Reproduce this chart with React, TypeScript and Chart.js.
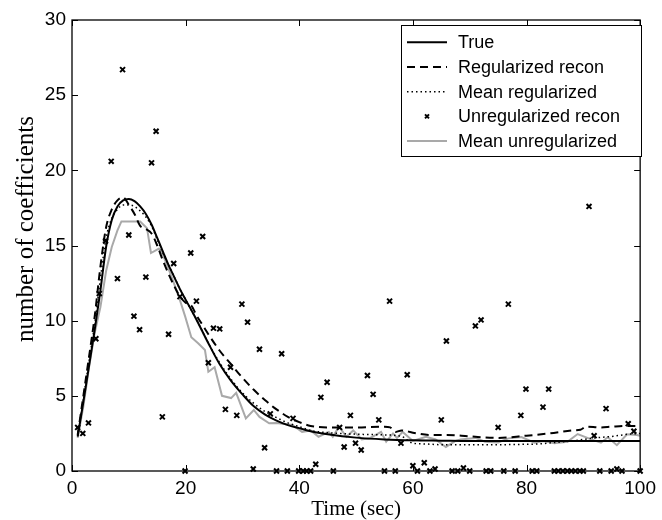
import React, { useEffect, useRef } from "react";
import { Chart, registerables } from "chart.js";

Chart.register(...registerables);

// ---- data ----
const trueT = [1, 2, 3, 4, 5, 6, 7, 8, 9, 10, 11, 12, 13, 14, 15, 16, 17, 18, 19, 20, 22, 24, 26, 28, 30, 32, 34, 36, 38, 40, 42, 45, 50, 55, 60, 65, 70, 80, 90, 100];
const trueV = [2.3, 4.6, 7.0, 9.4, 12.0, 14.9, 16.7, 17.6, 18.0, 18.1, 17.95, 17.6, 17.1, 16.4, 15.5, 14.6, 13.7, 12.9, 12.1, 11.4, 10.0, 8.5, 7.1, 6.0, 5.1, 4.3, 3.75, 3.35, 3.05, 2.85, 2.65, 2.45, 2.22, 2.1, 2.04, 2.02, 2.0, 2.0, 2.0, 2.0];

const regT = [1, 2, 3, 4, 5, 6, 7, 8, 9, 10, 11, 12, 13, 14, 15, 16, 17, 18, 19, 20, 21, 22, 23, 24, 26, 28, 30, 32, 34, 36, 38, 40, 42, 45, 50, 55, 56, 57, 58, 60, 63, 66, 70, 75, 80, 84, 88, 89.5, 90.5, 93, 95, 98, 100];
const regV = [2.4, 5.0, 7.6, 10.3, 13.6, 16.2, 17.4, 18.0, 18.2, 17.7, 17.1, 16.3, 16.1, 15.8, 15.0, 14.0, 13.1, 12.3, 11.6, 11.2, 11.0, 10.3, 9.7, 9.1, 8.0, 7.1, 6.2, 5.4, 4.7, 4.1, 3.6, 3.25, 3.0, 2.9, 2.9, 2.95, 2.9, 2.6, 2.7, 2.55, 2.4, 2.4, 2.3, 2.2, 2.35, 2.5, 2.7, 2.75, 2.95, 2.9, 2.95, 3.0, 3.0];

const meanRegT = [1, 2, 3, 4, 5, 6, 7, 8, 9, 10, 11, 12, 13, 14, 15, 16, 17, 18, 19, 20, 22, 24, 26, 28, 30, 32, 34, 36, 38, 40, 42, 45, 50, 55, 58, 60, 62, 65, 70, 75, 80, 82, 85, 88, 90, 92, 95, 98, 100];
const meanRegV = [2.3, 4.8, 7.3, 9.8, 12.8, 15.5, 16.8, 17.4, 17.7, 17.7, 17.6, 17.3, 16.9, 16.3, 15.4, 14.5, 13.7, 12.9, 12.1, 11.4, 10.0, 8.5, 7.2, 6.1, 5.2, 4.5, 3.95, 3.55, 3.2, 2.95, 2.7, 2.55, 2.45, 2.4, 2.3, 1.85, 1.8, 1.75, 1.75, 1.75, 1.78, 1.8, 1.9, 2.0, 2.1, 2.2, 2.3, 2.45, 2.5];

const unregT = [1.0, 1.9, 2.9, 4.2, 4.8, 5.9, 6.9, 8.0, 8.9, 10.0, 10.9, 11.9, 13.0, 14.0, 14.8, 15.9, 17.0, 17.9, 19.0, 19.9, 20.9, 21.9, 23.0, 24.0, 24.9, 26.0, 27.0, 27.9, 29.0, 29.9, 30.9, 31.9, 33.0, 33.9, 34.9, 36.0, 36.9, 37.9, 38.9, 39.9, 40.7, 41.3, 42.0, 42.9, 43.8, 44.9, 46.0, 47.1, 47.9, 49.0, 49.9, 50.9, 52.0, 53.0, 54.0, 55.0, 55.9, 56.9, 57.9, 59.0, 60.0, 60.8, 62.0, 63.0, 63.9, 65.0, 65.9, 66.9, 67.9, 68.9, 70.0, 71.0, 72.0, 72.9, 73.7, 75.0, 76.0, 76.8, 78.0, 79.0, 79.9, 81.0, 81.8, 82.9, 83.9, 84.9, 85.6, 86.4, 87.2, 87.9, 88.6, 89.4, 90.0, 91.0, 91.9, 92.9, 94.0, 94.9, 95.9, 96.8, 97.9, 98.9, 100];
const unregV = [2.9, 2.5, 3.2, 8.8, 11.8, 15.3, 20.6, 12.8, 26.7, 15.7, 10.3, 9.4, 12.9, 20.5, 22.6, 3.6, 9.1, 13.8, 11.6, 0, 14.5, 11.3, 15.6, 7.2, 9.5, 9.45, 4.1, 6.9, 3.7, 11.1, 9.9, 0.13, 8.1, 1.55, 3.8, 0, 7.8, 0, 3.5, 0, 0, 0, 0, 0.45, 4.9, 5.9, 0, 2.9, 1.6, 3.7, 1.85, 1.4, 6.35, 5.1, 3.4, 0, 11.3, 0, 1.85, 6.4, 0.35, 0, 0.55, 0, 0.13, 3.4, 8.65, 0, 0, 0.2, 0, 9.65, 10.05, 0, 0, 2.9, 0, 11.1, 0, 3.7, 5.45, 0, 0, 4.25, 5.45, 0, 0, 0, 0, 0, 0, 0, 0, 17.6, 2.35, 0, 4.15, 0, 0.13, 0, 3.15, 2.65, 0];

const meanUnT = [1, 2, 3, 4, 5, 6, 7, 8, 8.7, 12, 13.2, 13.9, 15.3, 16, 17.3, 18.8, 19.9, 21, 22.2, 23.4, 24, 25.1, 26.4, 28, 28.9, 30.6, 32, 33, 34.7, 36, 38.8, 40.5, 42, 43.4, 45.2, 45.9, 47, 48.3, 49.5, 51, 52.5, 54.4, 55.3, 56.5, 57.2, 58.2, 60, 62.3, 64, 65.8, 67.5, 68.4, 71, 72.7, 75, 76.8, 79.1, 81.4, 83, 84.9, 87.2, 89, 91.4, 93.1, 94.3, 95.9, 97.7, 99.4, 100];
const meanUnV = [2.2, 4.3, 6.9, 9.2, 10.9, 13.3, 14.9, 16.0, 16.6, 16.6, 16.15, 14.5, 14.8, 14.4, 13.15, 11.6, 10.3, 8.9, 8.5, 8.05, 6.6, 6.9, 5.0, 4.85, 5.2, 3.5, 4.06, 3.6, 3.17, 3.2, 3.06, 2.6, 2.7, 2.28, 2.6, 2.28, 2.95, 2.28, 2.7, 2.1, 2.2, 2.6, 1.95, 2.5, 2.2, 2.6, 2.0, 2.28, 2.1, 1.6, 2.0, 2.1, 2.2, 1.95, 1.9, 2.17, 2.26, 1.88, 2.0, 1.84, 1.95, 2.46, 2.1, 1.88, 2.24, 1.72, 2.44, 2.4, 2.35];

const xTicks = [0, 20, 40, 60, 80, 100];
const yTicks = [0, 5, 10, 15, 20, 25, 30];
const seriesNames = ["True", "Regularized recon", "Mean regularized", "Unregularized recon", "Mean unregularized"];
const xTitle = "Time (sec)";
const yTitle = "number of coefficients";

const pts = (t: number[], v: number[]) => t.map((x, i) => ({ x, y: v[i] }));

const SANS = '"Liberation Sans", Arial, Helvetica, sans-serif';
const SERIF = '"Liberation Serif", "Times New Roman", serif';
const GRAY = "#a9a9a9";

const framePlugin = {
  id: "frame",
  afterDatasetsDraw(chart: any) {
    const { ctx, chartArea: a, scales } = chart;
    const xs = scales.x;
    const ys = scales.y;
    ctx.save();
    ctx.strokeStyle = "#000";
    ctx.lineWidth = 1.3;
    ctx.setLineDash([]);
    ctx.strokeRect(a.left, a.top, a.right - a.left, a.bottom - a.top);
    ctx.lineWidth = 1;
    const tl = 6;
    ctx.beginPath();
    xTicks.forEach((v) => {
      const px = Math.round(xs.getPixelForValue(v)) + 0.5;
      ctx.moveTo(px, a.bottom);
      ctx.lineTo(px, a.bottom - tl);
      ctx.moveTo(px, a.top);
      ctx.lineTo(px, a.top + tl);
    });
    yTicks.forEach((v) => {
      const py = Math.round(ys.getPixelForValue(v)) + 0.5;
      ctx.moveTo(a.left, py);
      ctx.lineTo(a.left + tl, py);
      ctx.moveTo(a.right, py);
      ctx.lineTo(a.right - tl, py);
    });
    ctx.stroke();

    // legend
    const bx = 401, by = 25, bw = 240, bh = 131;
    ctx.fillStyle = "#fff";
    ctx.fillRect(bx, by, bw, bh);
    ctx.strokeStyle = "#000";
    ctx.lineWidth = 1;
    ctx.strokeRect(bx + 0.5, by + 0.5, bw, bh);
    const rows = [42.3, 67, 91.7, 116.4, 141];
    [0, 1, 2, 3, 4].forEach((di, i) => {
      const ds = chart.data.datasets[di];
      const y = rows[i];
      ctx.save();
      if (ds.showLine) {
        ctx.strokeStyle = ds.borderColor;
        ctx.lineWidth = ds.borderWidth;
        ctx.setLineDash(ds.borderDash || []);
        ctx.beginPath();
        ctx.moveTo(407, y);
        ctx.lineTo(447, y);
        ctx.stroke();
      } else {
        ctx.strokeStyle = "#000";
        ctx.lineWidth = 2;
        ctx.beginPath();
        ctx.moveTo(425, y - 2);
        ctx.lineTo(429, y + 2);
        ctx.moveTo(429, y - 2);
        ctx.lineTo(425, y + 2);
        ctx.stroke();
      }
      ctx.restore();
      ctx.fillStyle = "#000";
      ctx.font = `18px ${SANS}`;
      ctx.textAlign = "left";
      ctx.textBaseline = "middle";
      ctx.fillText(ds.label, 458, y + 1);
    });
    ctx.restore();
  },
  afterDraw(chart: any) {
    const { ctx, chartArea: a } = chart;
    ctx.save();
    ctx.fillStyle = "#000";
    ctx.font = `21px ${SERIF}`;
    ctx.textAlign = "center";
    ctx.textBaseline = "alphabetic";
    ctx.fillText(xTitle, (a.left + a.right) / 2, 515);
    ctx.translate(33, 229);
    ctx.rotate(-Math.PI / 2);
    ctx.font = `25px ${SERIF}`;
    ctx.fillText(yTitle, 0, 0);
    ctx.restore();
  },
};

export default function App() {
  const ref = useRef<HTMLCanvasElement | null>(null);
  useEffect(() => {
    if (!ref.current) return;
    const chart = new Chart(ref.current, {
      type: "scatter",
      data: {
        datasets: [
          {
            label: seriesNames[0],
            data: pts(trueT, trueV),
            showLine: true,
            borderColor: "#000",
            borderWidth: 2,
            pointRadius: 0,
            cubicInterpolationMode: "monotone",
            order: 1,
          },
          {
            label: seriesNames[1],
            data: pts(regT, regV),
            showLine: true,
            borderColor: "#000",
            borderWidth: 2,
            borderDash: [8, 5],
            pointRadius: 0,
            cubicInterpolationMode: "monotone",
            order: 2,
          },
          {
            label: seriesNames[2],
            data: pts(meanRegT, meanRegV),
            showLine: true,
            borderColor: "#000",
            borderWidth: 1.5,
            borderDash: [1.5, 3],
            pointRadius: 0,
            cubicInterpolationMode: "monotone",
            order: 3,
          },
          {
            label: seriesNames[3],
            data: pts(unregT, unregV),
            showLine: false,
            pointStyle: "crossRot",
            pointRadius: 3.5,
            borderColor: "#000",
            backgroundColor: "#000",
            borderWidth: 2,
            clip: false,
            order: 0,
          },
          {
            label: seriesNames[4],
            data: pts(meanUnT, meanUnV),
            showLine: true,
            borderColor: GRAY,
            borderWidth: 2,
            pointRadius: 0,
            order: 4,
          },
        ] as any,
      },
      options: {
        animation: false,
        responsive: false,
        devicePixelRatio: 1,
        layout: { padding: { top: 20, right: 15, left: 0, bottom: 0 } },
        plugins: { legend: { display: false }, tooltip: { enabled: false } },
        scales: {
          x: {
            type: "linear",
            min: 0,
            max: 100,
            afterBuildTicks: (s: any) => {
              s.ticks = xTicks.map((v) => ({ value: v }));
            },
            afterFit: (s: any) => {
              s.height = 49;
            },
            grid: { display: false, drawTicks: false },
            border: { display: false },
            ticks: {
              color: "#000",
              font: { family: SANS, size: 19 },
              padding: 6,
              maxRotation: 0,
              autoSkip: false,
            },
          },
          y: {
            type: "linear",
            min: 0,
            max: 30,
            afterBuildTicks: (s: any) => {
              s.ticks = yTicks.map((v) => ({ value: v }));
            },
            afterFit: (s: any) => {
              s.width = 72;
            },
            grid: { display: false, drawTicks: false },
            border: { display: false },
            ticks: {
              color: "#000",
              font: { family: SANS, size: 19 },
              padding: 6,
              autoSkip: false,
            },
          },
        },
      } as any,
      plugins: [framePlugin],
    });
    return () => chart.destroy();
  }, []);
  return (
    <canvas
      ref={ref}
      width={662}
      height={520}
      style={{ position: "absolute", left: 0, top: 0, width: 662, height: 520 }}
    />
  );
}
